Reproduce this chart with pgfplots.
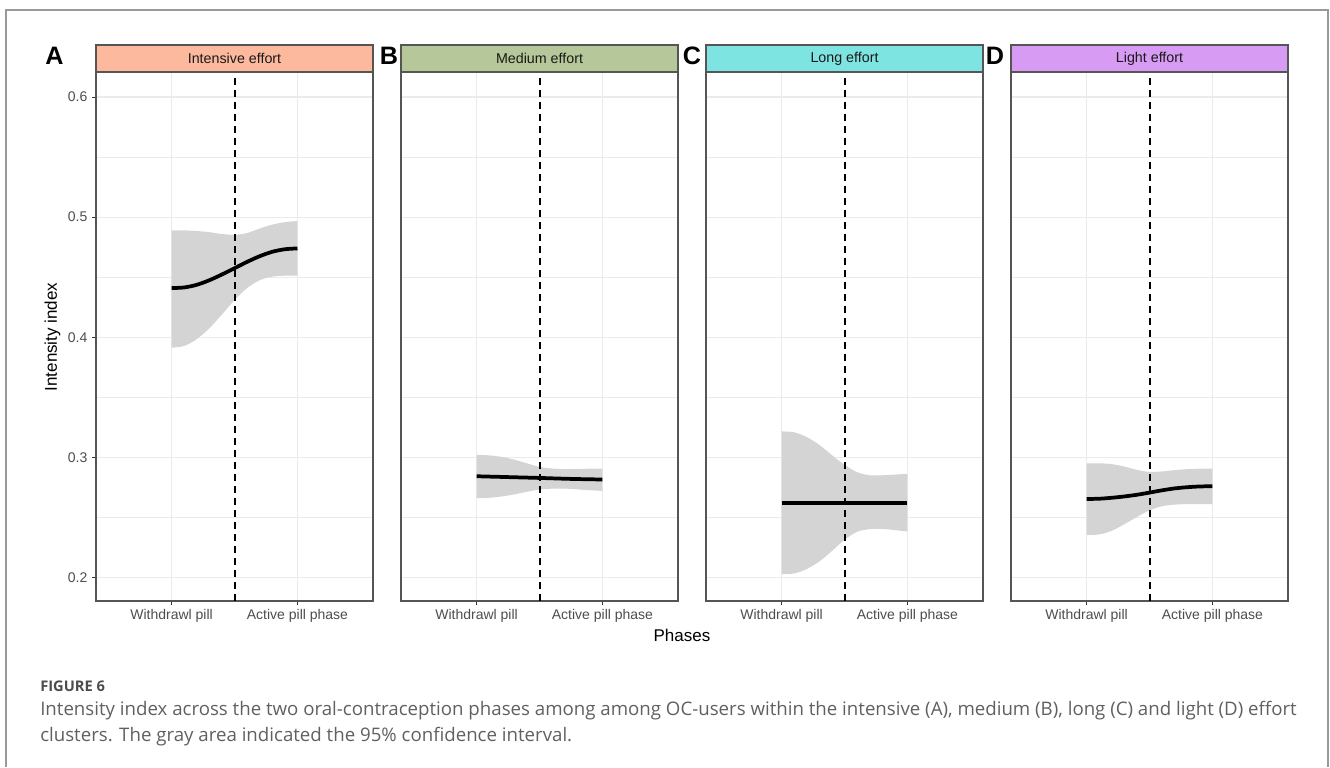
\documentclass[border=0pt]{standalone}
\usepackage{fontspec}
\setmainfont{Liberation Sans}
\newfontfamily\capfont{Open Sans}
\usepackage{pgfplots}
\pgfplotsset{compat=1.18}
\usepgfplotslibrary{fillbetween}

\definecolor{stripA}{HTML}{FDB99D}
\definecolor{stripB}{HTML}{B6C899}
\definecolor{stripC}{HTML}{7EE4E1}
\definecolor{stripD}{HTML}{D89BF3}
\definecolor{bandg}{HTML}{D4D4D4}
\definecolor{gridg}{HTML}{EBEBEB}
\definecolor{ticklab}{HTML}{4D4D4D}
\definecolor{borderg}{HTML}{555555}
\definecolor{capg}{HTML}{606060}

\pgfplotsset{
 panel/.style={
   anchor=south west, width=207.75pt, height=396.75pt, scale only axis,
   xmin=0.4, xmax=2.6, ymin=0.1806, ymax=0.6208,
   xtick={1,2}, xticklabels={Withdrawl pill, Active pill phase},
   ytick={0.2,0.3,0.4,0.5,0.6},
   minor ytick={0.25,0.35,0.45,0.55},
   grid=both,
   major grid style={gridg, line width=0.8pt},
   minor grid style={gridg, line width=0.45pt},
   tick align=outside, major tick length=3pt, minor tick length=0pt,
   tick style={black!80, line width=0.6pt},
   xtick pos=bottom, ytick pos=left,
   axis line style={borderg, line width=0.8pt},
   tick label style={font=\fontsize{10.5}{12}\selectfont, text=ticklab},
   /pgf/number format/assume math mode=true,
   yticklabel style={/pgf/number format/.cd, fixed, precision=1, fixed zerofill},
   clip=false,
 },
 noy/.style={yticklabels={}, ytick style={draw=none}},
 band/.style={draw=none, forget plot},
 fitline/.style={black, line width=2.8pt, smooth, line cap=butt},
 vdash/.style={black, line width=1.5pt, dash pattern=on 5.5pt off 3.5pt},
}
\newcommand{\strip}[2]{%
  \draw[fill=#1, draw=borderg, line width=0.8pt] (rel axis cs:0,1) rectangle ([yshift=20.25pt]rel axis cs:1,1);
  \node[font=\fontsize{10.7}{12}\selectfont, text=black!90] at ([yshift=10.1pt]rel axis cs:0.5,1) {#2};
}

\begin{document}
\begin{tikzpicture}
\draw[black!40, line width=1.1pt] (4.5pt,0pt) -- (4.5pt,567.75pt) -- (996pt,567.75pt) -- (996pt,0pt);

% Panel A
\begin{axis}[panel, at={(72pt,124.5pt)}]
\addplot[band, name path=uA, smooth] coordinates {(1,0.489)(1.1,0.489)(1.2,0.4885)(1.3,0.4875)(1.4,0.486)(1.5,0.4853)(1.6,0.4868)(1.7,0.4905)(1.8,0.4938)(1.9,0.4958)(2,0.4968)};
\addplot[band, name path=lA, smooth] coordinates {(1,0.3914)(1.1,0.3928)(1.2,0.3985)(1.3,0.4075)(1.4,0.419)(1.5,0.431)(1.6,0.441)(1.7,0.4475)(1.8,0.4505)(1.9,0.4513)(2,0.4514)};
\addplot[bandg, draw=none] fill between[of=uA and lA];
\addplot[fitline] coordinates {(1,0.441)(1.1,0.4415)(1.2,0.4437)(1.3,0.4475)(1.4,0.4523)(1.5,0.4575)(1.6,0.4628)(1.7,0.4675)(1.8,0.4712)(1.9,0.4733)(2,0.474)};
\addplot[vdash] coordinates {(1.5,0.1806)(1.5,0.6208)};
\strip{stripA}{Intensive effort}
\end{axis}

% Panel B
\begin{axis}[panel, noy, at={(300.75pt,124.5pt)}]
\addplot[band, name path=uB, smooth] coordinates {(1,0.3022)(1.1,0.3018)(1.2,0.3005)(1.3,0.2982)(1.4,0.2952)(1.5,0.2922)(1.6,0.2908)(1.7,0.2904)(1.8,0.2905)(1.9,0.2907)(2,0.2908)};
\addplot[band, name path=lB, smooth] coordinates {(1,0.2661)(1.1,0.2665)(1.2,0.2676)(1.3,0.2693)(1.4,0.2715)(1.5,0.2733)(1.6,0.2741)(1.7,0.2741)(1.8,0.2735)(1.9,0.2728)(2,0.2722)};
\addplot[bandg, draw=none] fill between[of=uB and lB];
\addplot[fitline] coordinates {(1,0.2844)(1.25,0.2837)(1.5,0.283)(1.75,0.2822)(2,0.2817)};
\addplot[vdash] coordinates {(1.5,0.1806)(1.5,0.6208)};
\strip{stripB}{Medium effort}
\end{axis}

% Panel C
\begin{axis}[panel, noy, at={(529.5pt,124.5pt)}]
\addplot[band, name path=uC, smooth] coordinates {(1,0.3217)(1.1,0.321)(1.2,0.317)(1.3,0.3105)(1.4,0.302)(1.5,0.2939)(1.6,0.2878)(1.7,0.2852)(1.8,0.2852)(1.9,0.2858)(2,0.2864)};
\addplot[band, name path=lC, smooth] coordinates {(1,0.2029)(1.1,0.2035)(1.2,0.2072)(1.3,0.2135)(1.4,0.2222)(1.5,0.2315)(1.6,0.2382)(1.7,0.2404)(1.8,0.2405)(1.9,0.2396)(2,0.2384)};
\addplot[bandg, draw=none] fill between[of=uC and lC];
\addplot[fitline] coordinates {(1,0.2623)(1.5,0.2623)(2,0.2623)};
\addplot[vdash] coordinates {(1.5,0.1806)(1.5,0.6208)};
\strip{stripC}{Long effort}
\end{axis}

% Panel D
\begin{axis}[panel, noy, at={(758.25pt,124.5pt)}]
\addplot[band, name path=uD, smooth] coordinates {(1,0.295)(1.1,0.2952)(1.2,0.2945)(1.3,0.2925)(1.4,0.2897)(1.5,0.288)(1.6,0.2884)(1.7,0.2895)(1.8,0.2903)(1.9,0.2907)(2,0.2908)};
\addplot[band, name path=lD, smooth] coordinates {(1,0.2355)(1.1,0.236)(1.2,0.239)(1.3,0.2445)(1.4,0.2505)(1.5,0.256)(1.6,0.2595)(1.7,0.2608)(1.8,0.2612)(1.9,0.2612)(2,0.2611)};
\addplot[bandg, draw=none] fill between[of=uD and lD];
\addplot[fitline] coordinates {(1,0.2655)(1.1,0.2657)(1.2,0.2665)(1.3,0.2676)(1.4,0.269)(1.5,0.2708)(1.6,0.2727)(1.7,0.2743)(1.8,0.2753)(1.9,0.2759)(2,0.2761)};
\addplot[vdash] coordinates {(1.5,0.1806)(1.5,0.6208)};
\strip{stripD}{Light effort}
\end{axis}

% Labels
\node[rotate=90, font=\fontsize{12.75}{14}\selectfont] at (39.4pt,322.5pt) {Intensity index};
\node[font=\fontsize{12.75}{14}\selectfont] at (511.5pt,99pt) {Phases};
\foreach \L/\X in {A/40.9, B/291.75, C/519, D/746.25}
  \node[font=\fontsize{18.9}{20}\selectfont\bfseries] at (\X pt,533.25pt) {\L};

% Caption
\node[anchor=west, font=\capfont\bfseries\fontsize{11}{13}\selectfont, text=black!70, inner sep=0pt] at (30pt,60.75pt) {FIGURE 6};
\node[anchor=west, font=\capfont\fontsize{14}{16}\selectfont, text=capg, inner sep=0pt] at (30pt,42pt) {Intensity index across the two oral-contraception phases among among OC-users within the intensive (A), medium (B), long (C) and light (D) effort};
\node[anchor=west, font=\capfont\fontsize{14}{16}\selectfont, text=capg, inner sep=0pt] at (30pt,22.5pt) {clusters. The gray area indicated the 95\% confidence interval.};
\useasboundingbox (0,0) rectangle (997.5pt,575.25pt);
\end{tikzpicture}
\end{document}
